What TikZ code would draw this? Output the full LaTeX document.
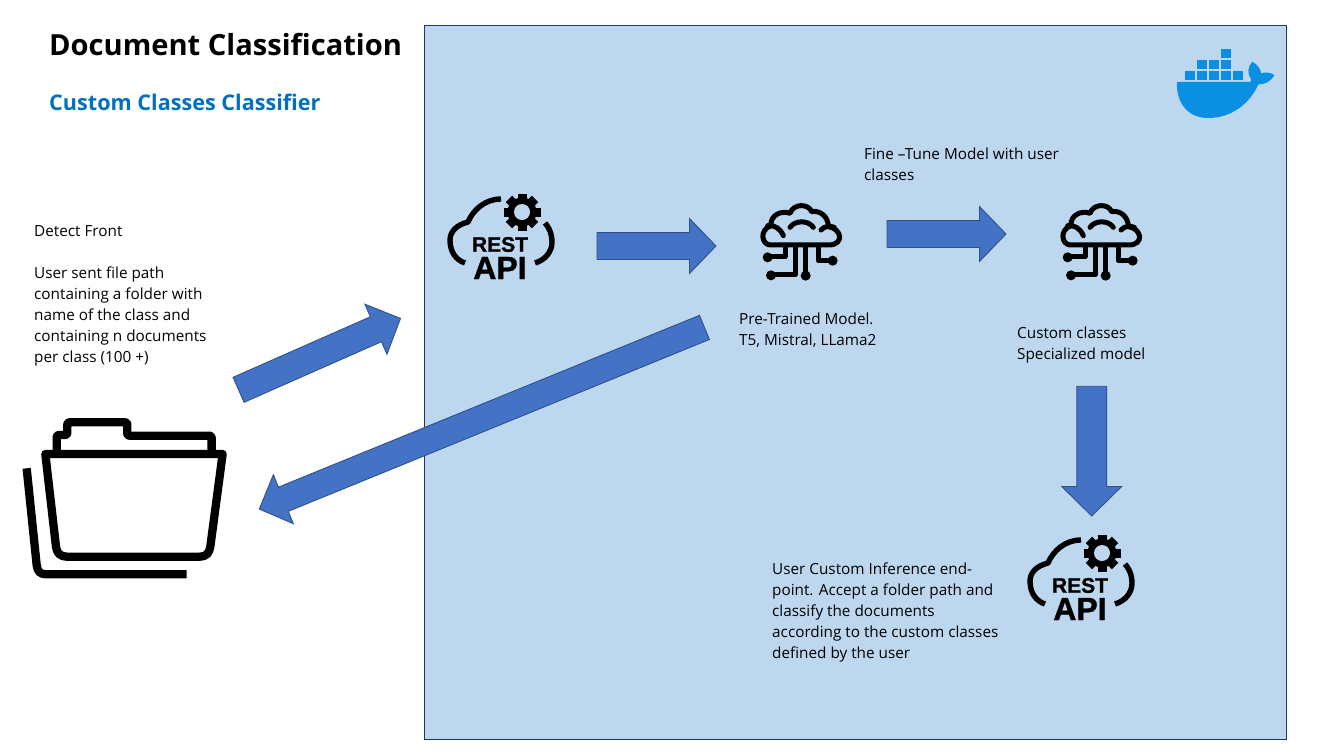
\documentclass[tikz,border=0pt]{standalone}
\usepackage{fontspec}
\setmainfont{Open Sans}
\newfontfamily\iconfont[FakeBold=1.2]{Liberation Sans}
\usetikzlibrary{shapes.arrows}
\definecolor{panel}{HTML}{BDD7EE}
\definecolor{panelline}{HTML}{1F3864}
\definecolor{arrowfill}{HTML}{4472C4}
\definecolor{arrowline}{HTML}{2F528F}
\definecolor{titleblue}{HTML}{0070C0}
\definecolor{dock}{HTML}{0B8FE3}
\tikzset{
  x=1pt,y=-1pt,
  blockarrow/.style={draw=arrowline,fill=arrowfill,line width=0.9pt,single arrow,inner xsep=0pt,single arrow head indent=0pt,anchor=center},
  bodytext/.style={align=left,anchor=north west,inner sep=0pt,font=\fontsize{15.3}{21}\selectfont,text=black},
  brainline/.style={line width=5pt,draw=black,line join=round},
  cloudline/.style={line width=5.4pt,draw=black,line join=round},
  folderline/.style={line width=8.3pt,draw=black,line join=round},
}
\newcommand{\restapi}[2]{%
  \begin{scope}[shift={(#1,#2)}]
    \draw[cloudline] (31,-13) .. controls (15,-13) and (3,-2) .. (-2,10) .. controls (-14,13) and (-20,20) .. (-20,28) .. controls (-20,40) and (-14,48) .. (-5,51);
    \draw[cloudline] (75,11) .. controls (81,18) and (82,25) .. (82,30) .. controls (82,40) and (75,48) .. (65,51);
    \fill[black] (52,0) circle[radius=14.5];
    \foreach \a in {0,45,...,315}{\fill[black,rotate around={\a:(52,0)}] (47.5,-18.5) rectangle (56.5,-10);}
    \fill[panel] (52,0) circle[radius=8];
    \node[font=\fontsize{21}{21}\selectfont\bfseries\iconfont,inner sep=0pt,text=black] at (30,32.5) {REST};
    \node[font=\fontsize{32}{32}\selectfont\bfseries\iconfont,inner sep=0pt,text=black] at (30,56) {API};
  \end{scope}}
\newcommand{\brain}[2]{%
  \begin{scope}[shift={(#1,#2)},scale=0.3333]
    \draw[brainline] (250,150) -- (75,150) .. controls (50,148) and (42,105) .. (78,92) .. controls (75,60) and (110,45) .. (135,55) .. controls (145,25) and (190,25) .. (200,50) .. controls (225,45) and (250,65) .. (250,95) .. controls (290,100) and (300,150) .. (250,150);
    \draw[brainline,line cap=round] (115,122) .. controls (105,100) and (90,90) .. (68,92);
    \draw[brainline,line cap=round] (228,105) .. controls (240,92) and (255,92) .. (268,97);
    \draw[brainline,line cap=round] (135,97) .. controls (150,75) and (190,75) .. (205,97);
    \draw[brainline] (120,150) -- (120,185) -- (68,185);
    \draw[brainline] (150,150) -- (150,240) -- (78,240);
    \draw[brainline] (180,150) -- (180,240);
    \draw[brainline] (220,150) -- (220,197) -- (262,197);
    \fill (68,187) circle[radius=15];
    \fill (78,241) circle[radius=15];
    \fill (182,242) circle[radius=15];
    \fill (263,197) circle[radius=15];
  \end{scope}}
\begin{document}
\begin{tikzpicture}
\useasboundingbox (0,0) rectangle (1329,755);
\fill[white] (0,0) rectangle (1329,755);
\node[draw=panelline,fill=panel,line width=0.8pt,minimum width=862pt,minimum height=714pt,inner sep=0pt,anchor=north west] (panel) at (423.5,24.5) {};

\node[anchor=west,inner sep=0pt,font=\fontsize{29.1}{36}\selectfont\bfseries,text=black] (title) at (49,45) {Document Classification};
\node[anchor=west,inner sep=0pt,font=\fontsize{21.6}{26}\selectfont\bfseries,text=titleblue] (subtitle) at (49,102) {Custom Classes Classifier};

\node[bodytext] (front) at (34,225) {Detect Front\\[21pt]User sent file path\\containing a folder with\\name of the class and\\containing n documents\\per class (100 +)};
\node[bodytext] (pre) at (739,313) {Pre-Trained Model.\\T5, Mistral, LLama2};
\node[bodytext] (fine) at (864,148) {Fine –Tune Model with user\\classes};
\node[bodytext] (custom) at (1017,327) {Custom classes\\Specialized model};
\node[bodytext] (infer) at (772,563) {User Custom Inference end-\\point. Accept a folder path and\\classify the documents\\according to the custom classes\\defined by the user};

% icons
\restapi{470}{212}
\brain{745}{195}
\brain{1045}{195}
\restapi{1050}{553}

% folder
\begin{scope}[shift={(10,405)},scale=0.3333]
  \draw[folderline] (106,147) -- (138,425) .. controls (140,445) and (152,455) .. (170,455) -- (570,455) .. controls (588,455) and (598,445) .. (601,425) -- (638,147) -- cycle;
  \draw[folderline,rounded corners=2pt] (140,147) -- (140,90) -- (172,90) -- (172,52) -- (352,52) -- (352,92) -- (605,92) -- (605,147);
  \draw[folderline] (50,190) -- (80,480) .. controls (82,498) and (90,508) .. (108,508) -- (530,508);
\end{scope}

% docker logo
\begin{scope}[shift={(1165,40)},scale=0.3333]
  \foreach \x/\y in {60/92,96/92,132/92,168/92,204/92,96/60,132/60,168/60,168/27}{\fill[dock] (\x,\y) rectangle +(30,28);}
  \fill[dock] (36,126) -- (245,126) .. controls (258,126) and (262,124) .. (258,118) .. controls (246,100) and (248,80) .. (262,65) .. controls (280,75) and (288,90) .. (288,100) .. controls (300,96) and (318,97) .. (328,105) .. controls (318,125) and (298,134) .. (280,133) .. controls (255,190) and (200,234) .. (130,234) .. controls (65,234) and (33,185) .. (36,126) -- cycle;
\end{scope}

% block arrows
\node[blockarrow,inner ysep=13pt,minimum width=54pt,minimum height=119pt,single arrow head extend=14pt,single arrow tip angle=92] (a1) at (650,246) {};
\node[blockarrow,inner ysep=13pt,minimum width=54pt,minimum height=119pt,single arrow head extend=14pt,single arrow tip angle=92] (a2) at (940,234) {};
\node[blockarrow,inner ysep=14.4pt,minimum width=58.7pt,minimum height=129.7pt,single arrow head extend=15pt,single arrow tip angle=91,rotate=-90] (a3) at (1091.7,443.8) {};
\node[blockarrow,inner ysep=13.2pt,minimum width=53.8pt,minimum height=177pt,single arrow head extend=13.7pt,single arrow tip angle=91,rotate=23.8] (a4) at (313.4,356.8) {};
\node[blockarrow,inner ysep=12.6pt,minimum width=52pt,minimum height=480.8pt,single arrow head extend=13.4pt,single arrow tip angle=91,rotate=202.2] (a5) at (487.8,415.8) {};
\end{tikzpicture}
\end{document}
